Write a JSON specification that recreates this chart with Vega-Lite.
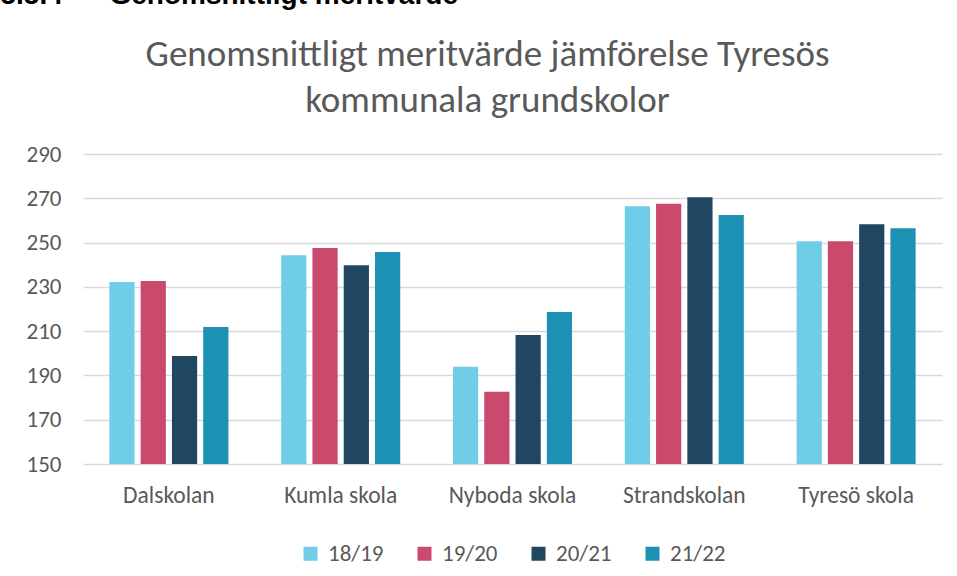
{
  "$schema": "https://vega.github.io/schema/vega-lite/v6.json",
  "autosize": {"type": "none"},
  "width": 859,
  "height": 310,
  "padding": {"left": 83, "top": 154, "right": 15, "bottom": 112},
  "background": "white",
  "title": {
    "text": ["Genomsnittligt meritvärde jämförelse Tyresös", "kommunala grundskolor"],
    "font": "Carlito, Calibri, Lato",
    "fontSize": 37,
    "fontWeight": "normal",
    "color": "#595959",
    "lineHeight": 46,
    "anchor": "middle",
    "frame": "group",
    "dx": -25,
    "offset": -139
  },
  "data": {
    "values": [
      {"school": "Dalskolan", "year": "18/19", "value": 232.2},
      {"school": "Dalskolan", "year": "19/20", "value": 232.6},
      {"school": "Dalskolan", "year": "20/21", "value": 198.8},
      {"school": "Dalskolan", "year": "21/22", "value": 211.9},
      {"school": "Kumla skola", "year": "18/19", "value": 244.3},
      {"school": "Kumla skola", "year": "19/20", "value": 247.5},
      {"school": "Kumla skola", "year": "20/21", "value": 239.8},
      {"school": "Kumla skola", "year": "21/22", "value": 245.7},
      {"school": "Nyboda skola", "year": "18/19", "value": 193.9},
      {"school": "Nyboda skola", "year": "19/20", "value": 182.6},
      {"school": "Nyboda skola", "year": "20/21", "value": 208.3},
      {"school": "Nyboda skola", "year": "21/22", "value": 218.7},
      {"school": "Strandskolan", "year": "18/19", "value": 266.4},
      {"school": "Strandskolan", "year": "19/20", "value": 267.5},
      {"school": "Strandskolan", "year": "20/21", "value": 270.5},
      {"school": "Strandskolan", "year": "21/22", "value": 262.4},
      {"school": "Tyresö skola", "year": "18/19", "value": 250.6},
      {"school": "Tyresö skola", "year": "19/20", "value": 250.6},
      {"school": "Tyresö skola", "year": "20/21", "value": 258.3},
      {"school": "Tyresö skola", "year": "21/22", "value": 256.5}
    ]
  },
  "mark": {"type": "bar"},
  "encoding": {
    "x": {
      "field": "school",
      "type": "nominal",
      "sort": null,
      "scale": {"paddingInner": 0.307, "paddingOuter": 0.1535},
      "axis": {
        "title": null,
        "labelAngle": 0,
        "labelFont": "Carlito, Calibri, Lato",
        "labelFontSize": 23.5,
        "labelColor": "#595959",
        "labelBaseline": "alphabetic",
        "labelPadding": 38,
        "ticks": false,
        "tickSize": 0,
        "domain": false,
        "grid": false
      }
    },
    "xOffset": {
      "field": "year",
      "type": "nominal",
      "scale": {"paddingInner": 0.194, "paddingOuter": 0}
    },
    "y": {
      "field": "value",
      "type": "quantitative",
      "scale": {"domain": [150, 290], "zero": false, "nice": false},
      "axis": {
        "values": [150, 170, 190, 210, 230, 250, 270, 290],
        "title": "5.5.4\u00a0\u00a0\u00a0\u00a0\u00a0\u00a0Genomsnittligt meritvärde",
        "titleAngle": 0,
        "titleAlign": "left",
        "titleBaseline": "alphabetic",
        "titleX": -83,
        "titleY": -151,
        "titleFont": "Liberation Sans",
        "titleFontSize": 28,
        "titleFontWeight": "bold",
        "titleColor": "#000000",
        "labelFont": "Carlito, Calibri, Lato",
        "labelFontSize": 23,
        "labelColor": "#595959",
        "labelPadding": 22,
        "ticks": false,
        "tickSize": 0,
        "domain": false,
        "grid": true,
        "gridColor": "#d9d9d9",
        "gridWidth": 1.5
      }
    },
    "y2": {"datum": 150},
    "color": {
      "field": "year",
      "type": "nominal",
      "scale": {
        "domain": ["18/19", "19/20", "20/21", "21/22"],
        "range": ["#70CDE8", "#C94A6C", "#204662", "#1D91B4"]
      },
      "legend": {
        "title": null,
        "orient": "bottom",
        "direction": "horizontal",
        "symbolType": "square",
        "symbolSize": 196,
        "symbolStrokeWidth": 0,
        "labelFont": "Carlito, Calibri, Lato",
        "labelFontSize": 23,
        "labelColor": "#595959",
        "labelOffset": 6,
        "columnPadding": 29,
        "offset": 35
      }
    }
  },
  "config": {
    "view": {"stroke": null},
    "legend": {"layout": {"bottom": {"anchor": "middle"}}}
  }
}
